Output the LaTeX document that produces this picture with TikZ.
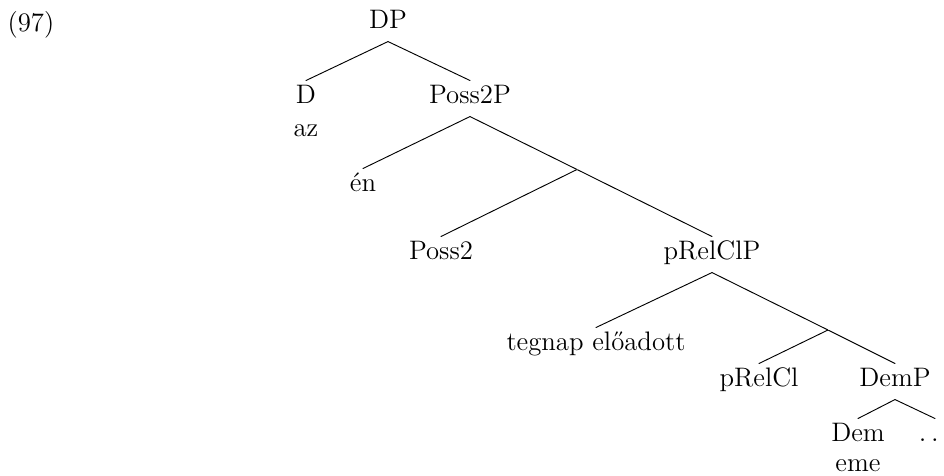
\documentclass[tikz,border=0pt]{standalone}
\usepackage{tikz}
\tikzset{
    %Define style for category labels
    cat/.style={
           anchor=base,
           font=\fontsize{11.5}{14}\selectfont,
           text height=7.8pt,
           text depth=3.1pt,
           inner xsep=1pt,
           inner ysep=2.1pt,
           text centered},
    %Define style for empty branching points
    bar/.style={
           inner sep=0pt,
           minimum size=0pt},
    % Define branch style
    branch/.style={
           thin,
           line cap=round}
}
\begin{document}
\begin{tikzpicture}[x=0.43pt,y=-0.43pt]
\useasboundingbox (0,0) rectangle (944,476);
 %nodes
\node[cat] (ex) at (31,32) {(97)};
\node[cat] (DP) at (388,29) {DP};
\node[cat] (D) at (306,104) {D};
\node[cat] (az) at (306,137) {az};
\node[cat] (Poss2P) at (470,104) {Poss2P};
\node[cat] (en) at (363,192) {én};
\node[bar] (Poss2bar) at (577,169.5) {};
\node[cat] (Poss2) at (441,260) {Poss2};
\node[cat] (pRelClP) at (712,260) {pRelClP};
\node[cat] (eloadott) at (596,351) {tegnap előadott};
\node[bar] (pRelClbar) at (828,330) {};
\node[cat] (pRelCl) at (759,387) {pRelCl};
\node[cat] (DemP) at (895,387) {DemP};
\node[cat] (Dem) at (858,442) {Dem};
\node[cat] (eme) at (858,472) {eme};
\node[cat] (rest) at (935,442) {$\ldots$};
 %branches
\path[branch]
    (DP.south) edge (D.north)
    (DP.south) edge (Poss2P.north)
    (Poss2P.south) edge (en.north)
    (Poss2P.south) edge (Poss2bar)
    (Poss2bar) edge (Poss2.north)
    (Poss2bar) edge (pRelClP.north)
    (pRelClP.south) edge (eloadott.north)
    (pRelClP.south) edge (pRelClbar)
    (pRelClbar) edge (pRelCl.north)
    (pRelClbar) edge (DemP.north)
    (DemP.south) edge (Dem.north)
    (DemP.south) edge (rest.north);
\end{tikzpicture}
\end{document}
